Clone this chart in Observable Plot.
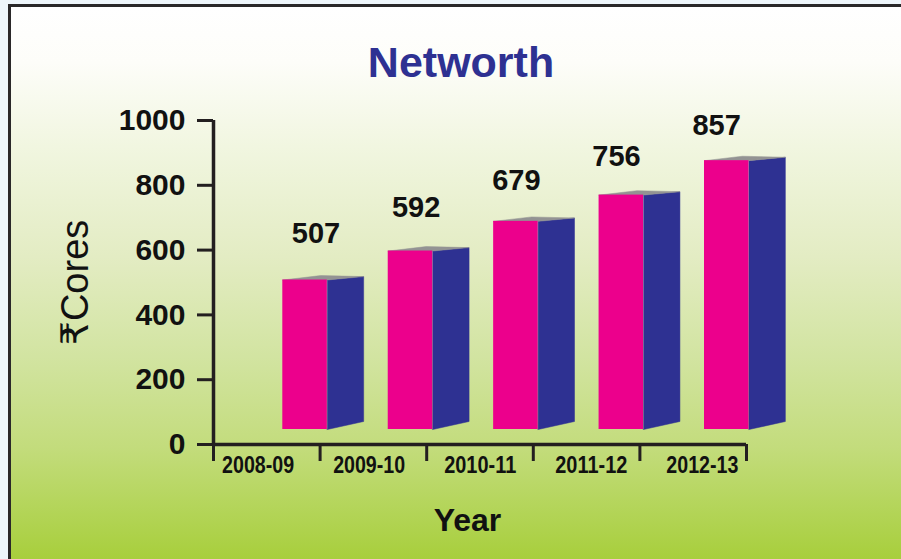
<!DOCTYPE html>
<html>
<head>
<meta charset="utf-8">
<script src="https://cdn.jsdelivr.net/npm/d3@7"></script>
<script src="https://cdn.jsdelivr.net/npm/@observablehq/plot@0.6"></script>
<style>
  html, body { margin: 0; padding: 0; }
  body { width: 901px; height: 559px; overflow: hidden; background: #eef6fb; position: relative; }
  #frame { position: absolute; left: 8px; top: 4px; right: 0; bottom: 0;
    border-left: 3px solid #2a2829; border-top: 3px solid #2a2829;
    background: linear-gradient(to bottom, #ffffff 0px, #fdfdf9 55px, #f1f6e0 140px, #e3ecc3 250px, #d2e4a1 350px, #c3dc7c 440px, #b4d55a 500px, #a7ce3a 555px); }
  .layer { position: absolute; left: 0; top: 0; }
</style>
</head>
<body>
<div id="frame"></div>
<div id="axes" class="layer"></div>
<div id="bars" class="layer"></div>
<div id="labels" class="layer"></div>
<script>
// ---- data ----
const years = ["2008-09", "2009-10", "2010-11", "2011-12", "2012-13"];
const networth = [507, 592, 679, 756, 857];
const yTicks = [0, 200, 400, 600, 800, 1000];
const titleText = "Networth";
const yLabel = "₹Cores";
const xLabel = "Year";

const font = "'Liberation Sans', Arial, 'DejaVu Sans', 'Noto Sans', sans-serif";
const ink = "#231f20";

const data = networth.map((value, i) => ({i, year: years[i], value}));

// ---- axes layer ----
const axesPlot = Plot.plot({
  width: 901, height: 559,
  marginLeft: 213, marginRight: 155, marginTop: 120, marginBottom: 115,
  style: {background: "transparent", overflow: "visible", fontFamily: font},
  x: {domain: [0, years.length], axis: null},
  y: {domain: [0, 1000], axis: null},
  marks: [
    Plot.axisY({ticks: yTicks, tickSize: 16, tickPadding: 12, fontSize: 30, fontWeight: "bold",
      stroke: ink, strokeWidth: 3, fill: "#111", tickFormat: d => String(d), label: null, fontFamily: font}),
    Plot.axisX({ticks: d3.range(years.length + 1), tickSize: 17, tickFormat: () => "",
      stroke: ink, strokeWidth: 3, label: null}),
    Plot.ruleX([0], {stroke: ink, strokeWidth: 3.5}),
    Plot.ruleY([0], {stroke: ink, strokeWidth: 3.5}),
    Plot.text(years, {x: (d, i) => i * 1.042 + 0.418, frameAnchor: "bottom", lineAnchor: "top", dy: 11,
      text: d => d, fontSize: 24, fontWeight: "bold", fontFamily: font, fill: "#111"}),
    Plot.text([yLabel], {frameAnchor: "left", textAnchor: "middle", rotate: -90, dx: -138, text: d => d,
      fontSize: 38, fill: "#111", fontFamily: font}),
    Plot.text([xLabel], {frameAnchor: "bottom", dx: -12.5, dy: 76, lineAnchor: "middle", text: d => d,
      fontSize: 32, fontWeight: "bold", fill: "#111", fontFamily: font}),
    Plot.text([titleText], {frameAnchor: "top", dx: -19, dy: -57.5, lineAnchor: "middle", text: d => d,
      fontSize: 43, fontWeight: "bold", fill: "#2e3192", fontFamily: font})
  ]
});
// condensed category labels
d3.select(axesPlot).selectAll("text")
  .filter(function() { return years.includes(this.textContent); })
  .attr("textLength", 72).attr("lengthAdjust", "spacingAndGlyphs");
document.getElementById("axes").appendChild(axesPlot);

// ---- 3D bars layer (perspective floor is clamped) ----
const floorV = 68.6;  // value hidden by the 3D floor
const FW = 0.422;     // front face width (in bar steps)
const SW = 0.767;     // side face outer edge
const BL = 0.36;      // top face back-left corner
const riseB = 23.5, riseT = 10, riseP = 13; // perspective lift (value units)

const sideFaces = data.flatMap(d => [
  {i: d.i, x: d.i + FW, y: floorV},
  {i: d.i, x: d.i + SW, y: floorV + riseB},
  {i: d.i, x: d.i + SW, y: d.value + riseT},
  {i: d.i, x: d.i + FW, y: d.value}
]);
const topFaces = data.flatMap(d => [
  {i: d.i, x: d.i, y: d.value},
  {i: d.i, x: d.i + BL, y: d.value + riseP},
  {i: d.i, x: d.i + SW, y: d.value + riseT},
  {i: d.i, x: d.i + FW, y: d.value}
]);

const barsPlot = Plot.plot({
  width: 901, height: 559,
  marginLeft: 282.3, marginRight: 197, marginTop: 111.4, marginBottom: 130,
  style: {background: "transparent", overflow: "visible", fontFamily: font},
  x: {domain: [0, years.length - 1], axis: null},
  y: {domain: [floorV, 1000], clamp: true, axis: null},
  marks: [
    Plot.line(sideFaces, {x: "x", y: "y", z: "i", fill: "#2e3192", stroke: "#2e3192", strokeWidth: 0.5, curve: "linear-closed"}),
    Plot.line(topFaces, {x: "x", y: "y", z: "i", fill: "#939393", stroke: "#939393", strokeWidth: 0.5, curve: "linear-closed"}),
    Plot.rect(data, {x1: d => d.i, x2: d => d.i + FW, y1: () => 0, y2: "value", fill: "#ec008c"})
  ]
});
document.getElementById("bars").appendChild(barsPlot);

// ---- value labels layer ----
const labelsPlot = Plot.plot({
  width: 901, height: 559,
  marginLeft: 282.3, marginRight: 197, marginTop: 121.5, marginBottom: 130,
  style: {background: "transparent", overflow: "visible", fontFamily: font},
  x: {domain: [0, years.length - 1], axis: null},
  y: {domain: [0, 1000], axis: null},
  marks: [
    Plot.text(data, {x: d => d.i * 0.95 + 0.315, y: "value", dy: -40, lineAnchor: "middle",
      text: d => String(d.value), fontSize: 29, fontWeight: "bold", fill: "#111", fontFamily: font})
  ]
});
document.getElementById("labels").appendChild(labelsPlot);
</script>
</body>
</html>
